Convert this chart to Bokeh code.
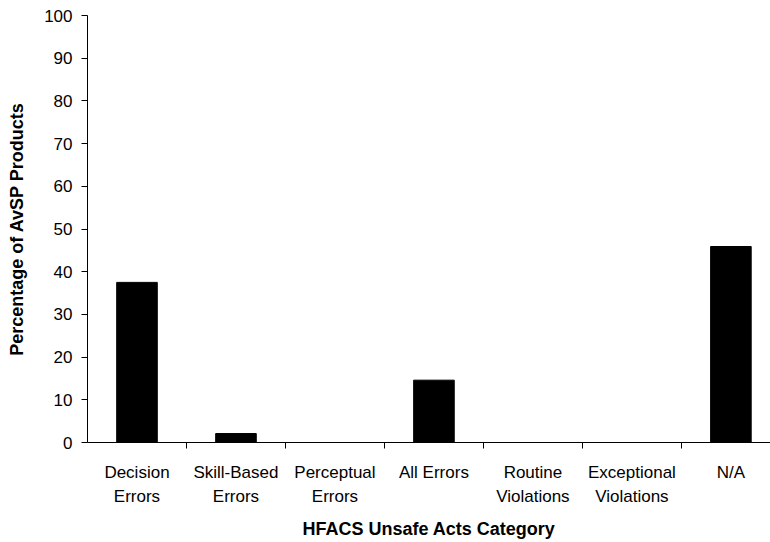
from bokeh.plotting import figure
from bokeh.models import FixedTicker, Range1d
from bokeh.embed import file_html
from bokeh.resources import INLINE

categories = ["Decision\nErrors", "Skill-Based\nErrors", "Perceptual\nErrors", "All Errors",
              "Routine\nViolations", "Exceptional\nViolations", "N/A"]
values = [37.5, 2.1, 0, 14.6, 0, 0, 45.9]
y_ticks = list(range(0, 101, 10))

centers = [i + 0.5 for i in range(len(categories))]
bounds = [i for i in range(1, len(categories) + 1)]

FONT = "Liberation Sans"

p = figure(width=770, height=542, output_backend="svg", toolbar_location=None,
           x_range=Range1d(0, 6.9), y_range=Range1d(0, 100),
           min_border_left=87, min_border_top=15, min_border_right=0, min_border_bottom=100)
p.vbar(x=centers, top=values, width=0.41, fill_color="black", line_color="black")

p.xgrid.visible = False
p.ygrid.visible = False
p.outline_line_color = None

xa = p.xaxis[0]
xa.ticker = FixedTicker(ticks=centers, minor_ticks=bounds)
xa.major_label_overrides = {c: lab for c, lab in zip(centers, categories)}
xa.major_tick_out = 0
xa.major_tick_in = 0
xa.minor_tick_out = 6
xa.minor_tick_in = 0
xa.major_label_standoff = 14
xa.major_label_text_font = FONT
xa.major_label_text_font_size = "17px"
xa.major_label_text_color = "black"
xa.major_label_text_line_height = 1.3
xa.axis_label = "HFACS Unsafe Acts Category"
xa.axis_label_text_font = FONT
xa.axis_label_text_font_size = "18px"
xa.axis_label_text_font_style = "bold"
xa.axis_label_text_color = "black"
xa.axis_label_standoff = 10
xa.axis_line_color = "black"

ya = p.yaxis[0]
ya.ticker = FixedTicker(ticks=y_ticks, minor_ticks=[])
ya.major_tick_out = 6
ya.major_tick_in = 0
ya.major_label_standoff = 9
ya.major_label_text_font = FONT
ya.major_label_text_font_size = "17px"
ya.major_label_text_color = "black"
ya.axis_label = "Percentage of AvSP Products"
ya.axis_label_text_font = FONT
ya.axis_label_text_font_size = "18px"
ya.axis_label_text_font_style = "bold"
ya.axis_label_text_color = "black"
ya.axis_label_standoff = 14
ya.axis_line_color = "black"

open("out.html", "w").write(file_html(p, INLINE))
